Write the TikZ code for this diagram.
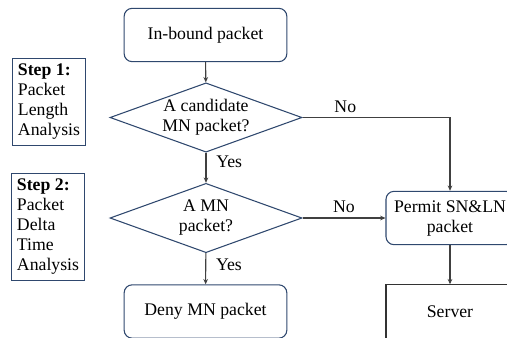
\documentclass[tikz,border=0pt]{standalone}
\usepackage{fontspec}
\setmainfont{Liberation Serif}
\usetikzlibrary{shapes.geometric,arrows.meta}
\definecolor{navy}{RGB}{47,72,110}
\definecolor{wire}{RGB}{64,64,64}
\tikzset{
  proc/.style={draw=navy, line width=0.8pt, rounded corners=6pt, minimum width=122pt, minimum height=40pt, align=center},
  decision/.style={diamond, draw=navy, line width=0.8pt, aspect=2.77, minimum width=144pt, minimum height=52pt, inner sep=0pt, align=center},
  stepbox/.style={draw=navy, line width=0.8pt, align=left, inner sep=4pt, minimum width=52.5pt},
  flow/.style={draw=wire, line width=0.8pt, -{Stealth[length=4pt,width=3.5pt]}},
}
\begin{document}
\begin{tikzpicture}[x=0.75pt,y=-0.75pt,font=\fontsize{13.3}{15}\selectfont]
\useasboundingbox[clip] (0,0) rectangle (507,337);
% main column
\node[proc] (inbound) at (205.5,35) {In-bound packet};
\node[decision] (cand) at (206,117.5) {A candidate\\MN packet?};
\node[decision] (mn) at (206,218) {A MN\\packet?};
\node[proc] (deny) at (205.5,311.5) {Deny MN packet};
% right column
\node[proc, minimum width=96pt] (permit) at (450,218) {Permit SN\&LN\\packet};
\node[draw=black!80, line width=0.8pt, minimum width=96pt, minimum height=40pt] (server) at (450,311.5) {Server};
% steps
\node[stepbox, minimum height=64.5pt] (step1) at (49,102) {\textbf{Step 1:}\\Packet\\Length\\Analysis};
\node[stepbox, minimum height=79.5pt] (step2) at (48,227) {\textbf{Step 2:}\\Packet\\Delta\\Time\\Analysis};
% connectors
\draw[flow] (inbound) -- (cand);
\draw[flow] (cand) -- node[right, pos=0.3, xshift=4pt]{Yes} (mn);
\draw[flow] (cand.east) -| node[above, pos=0.145]{No} (permit);
\draw[flow] (mn) -- node[above]{No} (permit);
\draw[flow] (mn) -- node[right, pos=0.375, xshift=4pt]{Yes} (deny);
\draw[flow] (permit) -- (server);
\end{tikzpicture}
\end{document}
